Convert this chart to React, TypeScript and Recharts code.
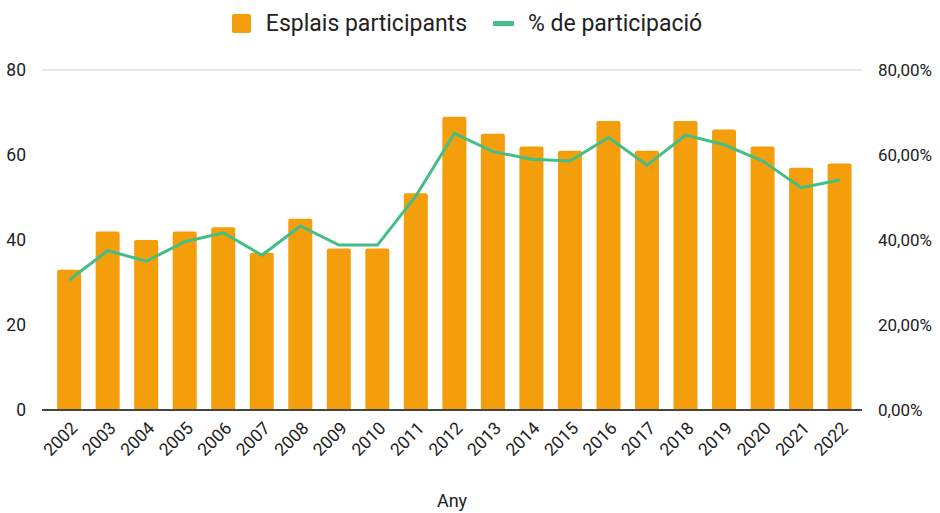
import { ComposedChart, Bar, Line, XAxis, YAxis, CartesianGrid, Legend, Label } from "recharts";

const years = ["2002", "2003", "2004", "2005", "2006", "2007", "2008", "2009", "2010", "2011", "2012", "2013", "2014", "2015", "2016", "2017", "2018", "2019", "2020", "2021", "2022"];
const esplais = [33, 42, 40, 42, 43, 37, 45, 38, 38, 51, 69, 65, 62, 61, 68, 61, 68, 66, 62, 57, 58];
const participacio = [0.306, 0.375, 0.35, 0.396, 0.417, 0.364, 0.433, 0.388, 0.388, 0.504, 0.651, 0.608, 0.59, 0.586, 0.641, 0.576, 0.647, 0.624, 0.586, 0.523, 0.541];
const leftTicks = [0, 20, 40, 60, 80];
const rightTicks = [0, 0.2, 0.4, 0.6, 0.8];

const BAR = "#f59e0c";
const LINE = "#43be87";
const TEXT = "#222";

const data = years.map((y, i) => ({ year: y, esplais: esplais[i], pct: participacio[i] }));

const fmtPct = (v: number) => (v * 100).toFixed(2).replace(".", ",") + "%";

function LegendContent() {
  return (
    <div style={{ display: "flex", justifyContent: "center", alignItems: "center", height: 22, fontFamily: "Roboto", fontSize: 23, color: TEXT, paddingRight: 6 }}>
      <span style={{ display: "inline-block", width: 19, height: 19, background: BAR, borderRadius: 2, marginRight: 15 }} />
      <span style={{ marginRight: 26 }}>Esplais participants</span>
      <span style={{ display: "inline-block", width: 21, height: 5, background: LINE, borderRadius: 1, marginRight: 14 }} />
      <span>% de participació</span>
    </div>
  );
}

function XTick({ x, y, payload }: any) {
  return (
    <text x={x + 6} y={y + 8} transform={`rotate(-45 ${x + 6} ${y + 8})`} textAnchor="end" dominantBaseline="middle" fill={TEXT} fontFamily="Roboto" fontSize={17.5}>
      {payload.value}
    </text>
  );
}

export default function App() {
  return (
    <div style={{ position: "absolute", left: 0, top: 0, background: "#fff" }}>
      <ComposedChart width={940} height={513} data={data} margin={{ top: 48, right: 0, left: 0, bottom: 0 }} barCategoryGap="18.5%">
        <CartesianGrid vertical={false} stroke="#cfcfcf" strokeWidth={1} />
        <XAxis dataKey="year" interval={0} padding={{ left: 8, right: 3 }} tick={<XTick />} tickLine={false} axisLine={{ stroke: "#444", strokeWidth: 2 }} height={103}>
          <Label value="Any" position="insideBottom" offset={6} fill={TEXT} fontFamily="Roboto" fontSize={18} />
        </XAxis>
        <YAxis yAxisId="left" domain={[0, 80]} ticks={leftTicks} width={42} axisLine={false} tickLine={false} tick={{ fill: TEXT, fontFamily: "Roboto", fontSize: 17.5 }} tickMargin={10} />
        <YAxis yAxisId="right" orientation="right" domain={[0, 0.8]} ticks={rightTicks} tickFormatter={fmtPct} width={78} axisLine={false} tickLine={false} tick={{ fill: TEXT, fontFamily: "Roboto", fontSize: 17, textAnchor: "start" }} tickMargin={10} />
        <Legend verticalAlign="top" align="center" content={<LegendContent />} wrapperStyle={{ top: 12 }} />
        <Bar yAxisId="left" dataKey="esplais" name="Esplais participants" fill={BAR} radius={[2, 2, 0, 0]} isAnimationActive={false} />
        <Line yAxisId="right" dataKey="pct" name="% de participació" stroke={LINE} strokeWidth={3} dot={false} type="linear" isAnimationActive={false} />
      </ComposedChart>
    </div>
  );
}
